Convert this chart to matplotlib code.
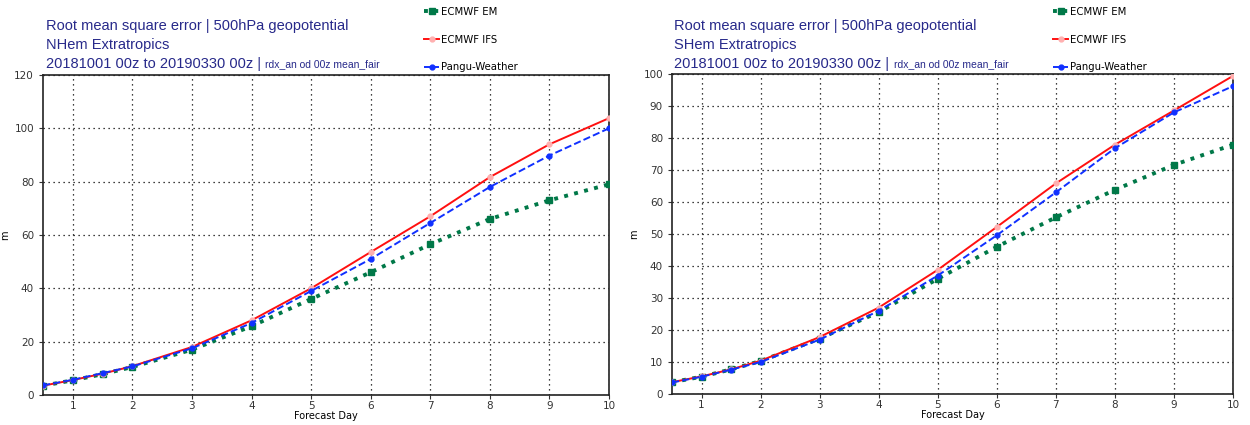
import matplotlib
matplotlib.use("Agg")

import matplotlib.pyplot as plt

# ================== DATA ==================
days = [0.5, 1, 1.5, 2, 3, 4, 5, 6, 7, 8, 9, 10]

nh_em = [3.5, 5.5, 7.8, 10.5, 17.0, 25.8, 36.0, 46.0, 56.5, 66.0, 73.0, 79.0]
nh_ifs = [3.5, 5.6, 8.0, 10.8, 18.0, 28.0, 40.0, 53.6, 67.0, 81.7, 94.0, 103.8]
nh_pangu = [3.6, 5.7, 8.2, 10.7, 17.5, 27.0, 39.0, 51.0, 64.5, 78.0, 89.8, 100.0]

sh_em = [3.7, 5.4, 7.7, 10.3, 17.3, 25.6, 36.0, 46.0, 55.2, 63.8, 71.6, 77.9]
sh_ifs = [3.7, 5.5, 7.7, 10.4, 17.8, 27.0, 38.8, 52.2, 65.8, 77.9, 88.6, 99.4]
sh_pangu = [3.6, 5.4, 7.6, 10.0, 17.0, 26.0, 37.0, 49.6, 63.0, 76.8, 88.0, 96.2]

regions = ["NHem Extratropics", "SHem Extratropics"]
ymax = [120, 100]
ystep = [20, 10]

TITLE = "Root mean square error | 500hPa geopotential"
PERIOD = "20181001 00z to 20190330 00z"
EXPVER = "rdx_an od 00z mean_fair"

EM_COLOR = "#007848"
IFS_COLOR = "#ff1010"
PANGU_COLOR = "#1030ff"
TITLE_COLOR = "#27298a"

# ================== FIGURE ==================
fig = plt.figure(figsize=(12.5, 4.25), dpi=100)
fig.patch.set_facecolor("white")

boxes = [
    [0.0344, 0.0706, 0.4528, 0.753],
    [0.5376, 0.0729, 0.4488, 0.753],
]
series = [(nh_em, nh_ifs, nh_pangu), (sh_em, sh_ifs, sh_pangu)]

for i, box in enumerate(boxes):
    ax = fig.add_axes(box)
    em, ifs, pangu = series[i]

    ax.plot(days, em, color=EM_COLOR, linestyle=":", linewidth=2.8,
            marker="s", markersize=4, label="ECMWF EM", zorder=3)
    ax.plot(days, ifs, color=IFS_COLOR, linestyle="-", linewidth=1.4,
            marker="o", markersize=3.5, markerfacecolor="#ffb0b0",
            markeredgecolor="#ffb0b0", label="ECMWF IFS", zorder=4)
    ax.plot(days, pangu, color=PANGU_COLOR, linestyle="--", linewidth=1.4,
            marker="o", markersize=3.5, label="Pangu-Weather", zorder=5)

    ax.set_xlim(0.5, 10)
    ax.set_ylim(0, ymax[i])
    ax.set_xticks(range(1, 11))
    ax.set_yticks(range(0, ymax[i] + 1, ystep[i]))
    ax.tick_params(labelsize=7.5, colors="#333333", length=3, width=0.8)
    ax.tick_params(axis="x", pad=1.5)
    ax.grid(True, color="black", linestyle=(0, (1, 3)), linewidth=0.9)
    for s in ax.spines.values():
        s.set_linewidth(1.2)
        s.set_color("#222222")

    ax.set_xlabel("Forecast Day", fontsize=7, labelpad=0)
    ax.set_ylabel("m", fontsize=7, labelpad=3)

    # title block
    x0 = box[0] + 0.002
    fig.text(x0, 1 - 26 / 425, TITLE, fontsize=10.5, color=TITLE_COLOR,
             family="Liberation Sans", va="center")
    fig.text(x0, 1 - 45 / 425, regions[i], fontsize=10.5, color=TITLE_COLOR,
             family="Liberation Sans", va="center")
    t = fig.text(x0, 1 - 64 / 425, PERIOD + " | ", fontsize=10.5,
                 color=TITLE_COLOR, family="Liberation Sans", va="center")
    fig.canvas.draw()
    bb = t.get_window_extent().transformed(fig.transFigure.inverted())
    fig.text(bb.x1, 1 - 64 / 425, EXPVER, fontsize=7.5, color=TITLE_COLOR,
             family="Liberation Sans", va="center")

    # legend above the plot
    lx = (424 if i == 0 else 1053) / 1250
    ax.legend(loc="upper left", bbox_to_anchor=(lx, 1 - 7 / 425),
              bbox_transform=fig.transFigure, frameon=False, fontsize=7.3,
              labelspacing=1.75, handlelength=1.5, handletextpad=0.2,
              borderpad=0, borderaxespad=0)

plt.savefig("out.png", dpi=100, facecolor=fig.get_facecolor())
plt.close()
